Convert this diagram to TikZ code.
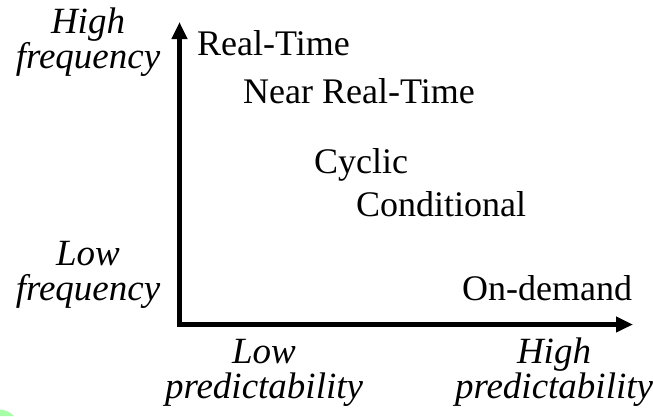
\documentclass[tikz,border=0pt]{standalone}
\usepackage{fontspec}
\setmainfont{Liberation Serif}
\usetikzlibrary{arrows.meta}
\begin{document}
\begin{tikzpicture}[x=1pt,y=-1pt,
  cat/.style={anchor=base west,inner sep=0pt,font=\fontsize{36}{36}\selectfont},
  axlabel/.style={anchor=base,inner sep=0pt,align=center,font=\fontsize{37}{35}\selectfont\itshape},
  axis/.style={line width=5pt,line join=miter,{Triangle[length=17pt,width=15pt]}-{Triangle[length=17pt,width=15pt]}}]
\useasboundingbox (0,0) rectangle (653,416);
% stray green edge
\fill[green!35!white] (0,409.5) .. controls (6,410) and (11,412.5) .. (14,416) -- (0,416) -- cycle;
% axes
\coordinate (ytip) at (179.5,22);
\coordinate (O) at (179.5,324.5);
\coordinate (xtip) at (633,324.5);
\draw[axis] (ytip) -- (O) -- (xtip);
% categories
\node[cat] (rt) at (197,55) {Real-Time};
\node[cat] (nrt) at (243,103) {Near Real-Time};
\node[cat] (cy) at (314,173) {Cyclic};
\node[cat] (co) at (356,216) {Conditional};
\node[cat] (od) at (462,300) {On-demand};
% axis labels (anchor base = baseline of last line)
\node[axlabel] (hf) at (88,68) {High\\frequency};
\node[axlabel] (lf) at (88,300) {Low\\frequency};
\node[axlabel] (lp) at (264,398) {Low\\predictability};
\node[axlabel] (hp) at (554,398) {High\\predictability};
\end{tikzpicture}
\end{document}
